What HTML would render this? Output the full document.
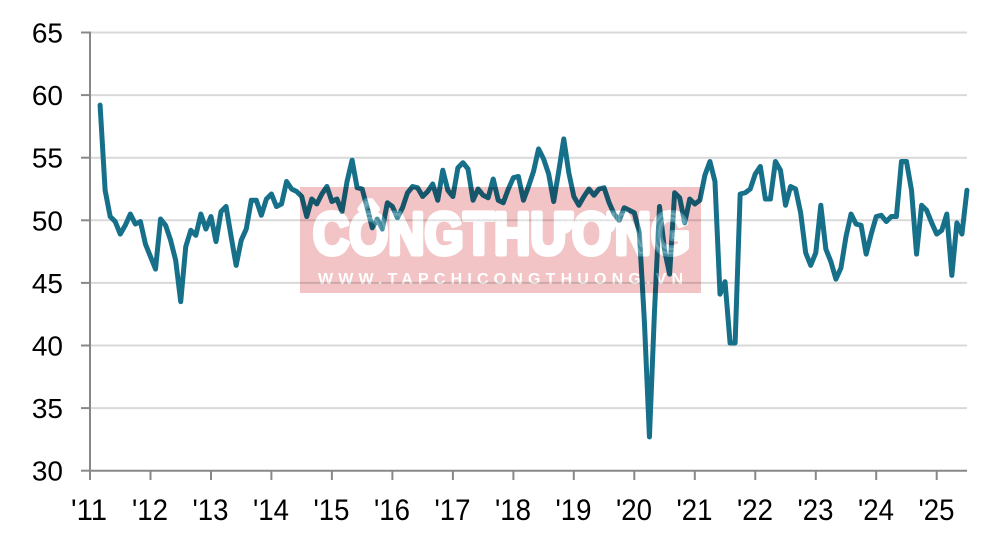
<!DOCTYPE html>
<html>
<head>
<meta charset="utf-8">
<style>
  html,body{margin:0;padding:0;background:#fff;}
  svg{display:block;}
  text{font-family:"Liberation Sans", Arial, sans-serif;}
</style>
</head>
<body>
<svg width="1000" height="547" viewBox="0 0 1000 547" xmlns="http://www.w3.org/2000/svg">
  <defs>
    <mask id="wm" maskUnits="userSpaceOnUse" x="0" y="0" width="1000" height="547">
      <rect x="0" y="0" width="1000" height="547" fill="#fff"/>
      <text x="313" y="254" font-size="59" font-weight="bold" fill="#000" stroke="#000" stroke-width="5" stroke-linejoin="round" textLength="377" lengthAdjust="spacingAndGlyphs">CÔNGTHƯƠNG</text>
      <text x="318" y="284" font-size="16" font-weight="bold" fill="#000" textLength="365" lengthAdjust="spacing">WWW.TAPCHICONGTHUONG.VN</text>
    </mask>
  </defs>
  <rect x="0" y="0" width="1000" height="547" fill="#ffffff"/>
  <!-- gridlines -->
  <g stroke="#d9d9d9" stroke-width="2">
    <line x1="90" y1="32.5" x2="967" y2="32.5"/>
    <line x1="90" y1="95.1" x2="967" y2="95.1"/>
    <line x1="90" y1="157.7" x2="967" y2="157.7"/>
    <line x1="90" y1="220.3" x2="967" y2="220.3"/>
    <line x1="90" y1="282.9" x2="967" y2="282.9"/>
    <line x1="90" y1="345.5" x2="967" y2="345.5"/>
    <line x1="90" y1="408.1" x2="967" y2="408.1"/>
  </g>
  <!-- axes -->
  <g stroke="#888888" stroke-width="2">
    <line x1="90" y1="31.5" x2="90" y2="471"/>
    <line x1="89" y1="470.7" x2="967" y2="470.7"/>
    <line x1="81" y1="32.5" x2="90" y2="32.5"/>
    <line x1="81" y1="95.1" x2="90" y2="95.1"/>
    <line x1="81" y1="157.7" x2="90" y2="157.7"/>
    <line x1="81" y1="220.3" x2="90" y2="220.3"/>
    <line x1="81" y1="282.9" x2="90" y2="282.9"/>
    <line x1="81" y1="345.5" x2="90" y2="345.5"/>
    <line x1="81" y1="408.1" x2="90" y2="408.1"/>
    <line x1="81" y1="470.7" x2="90" y2="470.7"/>
    <line x1="90" y1="470" x2="90" y2="480"/>
    <line x1="150.5" y1="470" x2="150.5" y2="480"/>
    <line x1="211" y1="470" x2="211" y2="480"/>
    <line x1="271.4" y1="470" x2="271.4" y2="480"/>
    <line x1="331.9" y1="470" x2="331.9" y2="480"/>
    <line x1="392.4" y1="470" x2="392.4" y2="480"/>
    <line x1="452.9" y1="470" x2="452.9" y2="480"/>
    <line x1="513.4" y1="470" x2="513.4" y2="480"/>
    <line x1="573.8" y1="470" x2="573.8" y2="480"/>
    <line x1="634.3" y1="470" x2="634.3" y2="480"/>
    <line x1="694.8" y1="470" x2="694.8" y2="480"/>
    <line x1="755.3" y1="470" x2="755.3" y2="480"/>
    <line x1="815.8" y1="470" x2="815.8" y2="480"/>
    <line x1="876.2" y1="470" x2="876.2" y2="480"/>
    <line x1="936.7" y1="470" x2="936.7" y2="480"/>
  </g>
  <!-- y labels -->
  <g font-size="28" fill="#000" text-anchor="end">
    <text x="63" y="42.5">65</text>
    <text x="63" y="105.1">60</text>
    <text x="63" y="167.7">55</text>
    <text x="63" y="230.3">50</text>
    <text x="63" y="292.9">45</text>
    <text x="63" y="355.5">40</text>
    <text x="63" y="418.1">35</text>
    <text x="63" y="480.7">30</text>
  </g>
  <!-- x labels -->
  <g font-size="30" fill="#000" text-anchor="middle">
    <text x="89" y="520" textLength="36" lengthAdjust="spacingAndGlyphs">'11</text>
    <text x="150" y="520" textLength="36" lengthAdjust="spacingAndGlyphs">'12</text>
    <text x="210.5" y="520" textLength="36" lengthAdjust="spacingAndGlyphs">'13</text>
    <text x="271" y="520" textLength="36" lengthAdjust="spacingAndGlyphs">'14</text>
    <text x="331.5" y="520" textLength="36" lengthAdjust="spacingAndGlyphs">'15</text>
    <text x="392" y="520" textLength="36" lengthAdjust="spacingAndGlyphs">'16</text>
    <text x="452.5" y="520" textLength="36" lengthAdjust="spacingAndGlyphs">'17</text>
    <text x="513" y="520" textLength="36" lengthAdjust="spacingAndGlyphs">'18</text>
    <text x="573.5" y="520" textLength="36" lengthAdjust="spacingAndGlyphs">'19</text>
    <text x="634" y="520" textLength="36" lengthAdjust="spacingAndGlyphs">'20</text>
    <text x="694.5" y="520" textLength="36" lengthAdjust="spacingAndGlyphs">'21</text>
    <text x="755" y="520" textLength="36" lengthAdjust="spacingAndGlyphs">'22</text>
    <text x="815.5" y="520" textLength="36" lengthAdjust="spacingAndGlyphs">'23</text>
    <text x="876" y="520" textLength="36" lengthAdjust="spacingAndGlyphs">'24</text>
    <text x="936.5" y="520" textLength="36" lengthAdjust="spacingAndGlyphs">'25</text>
  </g>
  <!-- data line -->
  <polyline transform="translate(90,846.3) scale(5.04,-12.52)" fill="none" stroke="#17708a" stroke-width="5" vector-effect="non-scaling-stroke" stroke-linejoin="round" stroke-linecap="round"
    points="2,59.2 3,52.4 4,50.3 5,49.9 6,48.9 7,49.6 8,50.5 9,49.7 10,49.9 11,48.1
12,47.1 13,46.1 14,50.1 15,49.6 16,48.4 17,46.8 18,43.5 19,47.9 20,49.2 21,48.8 22,50.5 23,49.3
24,50.3 25,48.3 26,50.7 27,51.1 28,48.7 29,46.4 30,48.4 31,49.3 32,51.6 33,51.6 34,50.4 35,51.7
36,52.1 37,51.1 38,51.3 39,53.1 40,52.5 41,52.3 42,51.9 43,50.3 44,51.7 45,51.3 46,52.1 47,52.7
48,51.5 49,51.7 50,50.7 51,53.1 52,54.8 53,52.6 54,52.5 55,51.0 56,49.4 57,50.1 58,49.3 59,51.4
60,51.1 61,50.2 62,51.0 63,52.2 64,52.7 65,52.6 66,51.9 67,52.3 68,52.9 69,51.6 70,54.0 71,52.4
72,51.9 73,54.2 74,54.6 75,54.1 76,51.6 77,52.5 78,52.0 79,51.8 80,53.3 81,51.6 82,51.4 83,52.5
84,53.4 85,53.5 86,51.6 87,52.7 88,53.9 89,55.7 90,54.9 91,53.7 92,51.5 93,53.9 94,56.5 95,53.8
96,51.9 97,51.2 98,51.9 99,52.5 100,52.0 101,52.5 102,52.6 103,51.4 104,50.5 105,50.0 106,51.0 107,50.8
108,50.6 109,49.0 110,41.9 111,32.7 112,42.7 113,51.1 114,47.6 115,45.7 116,52.2 117,51.8 118,49.8 119,51.7
120,51.3 121,51.6 122,53.6 123,54.7 124,53.1 125,44.1 126,45.1 127,40.2 128,40.2 129,52.1 130,52.2 131,52.5
132,53.7 133,54.3 134,51.7 135,51.7 136,54.7 137,54.0 138,51.2 139,52.7 140,52.5 141,50.6 142,47.4 143,46.4
144,47.4 145,51.2 146,47.7 147,46.7 148,45.3 149,46.2 150,48.7 151,50.5 152,49.7 153,49.6 154,47.3 155,48.9
156,50.3 157,50.4 158,49.9 159,50.3 160,50.3 161,54.7 162,54.7 163,52.4 164,47.3 165,51.2 166,50.8 167,49.8
168,48.9 169,49.2 170,50.5 171,45.6 172,49.8 173,48.9 174,52.4"/>
  <!-- watermark -->
  <rect x="300" y="187" width="401" height="106" fill="#f3c4c6" mask="url(#wm)" style="mix-blend-mode:multiply"/>
  <text x="313" y="254" font-size="59" font-weight="bold" fill="#ffffff" fill-opacity="0.2" stroke="#ffffff" stroke-opacity="0.2" stroke-width="5" stroke-linejoin="round" textLength="377" lengthAdjust="spacingAndGlyphs">CÔNGTHƯƠNG</text>
  <text x="318" y="284" font-size="16" font-weight="bold" fill="#ffffff" fill-opacity="0.2" textLength="365" lengthAdjust="spacing">WWW.TAPCHICONGTHUONG.VN</text>
</svg>
</body>
</html>
